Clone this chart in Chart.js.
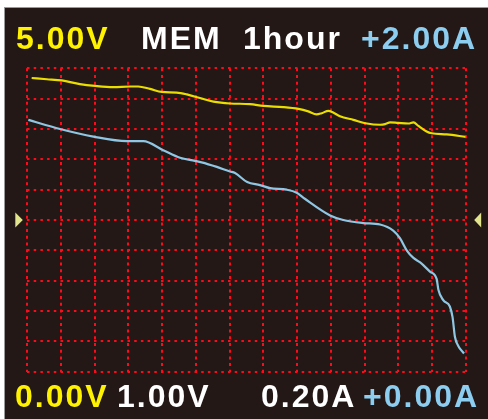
<!DOCTYPE html>
<html>
<head>
<meta charset="utf-8">
<script src="https://cdn.jsdelivr.net/npm/chart.js@4.4.1/dist/chart.umd.min.js"></script>
<style>
  html, body { margin:0; padding:0; background:#fff; }
  #wrap { position:relative; width:488px; height:419px; overflow:hidden; }
  #panel { position:absolute; left:4px; top:7px; width:484px; height:412px; background:#231815;
           border-top:1px solid #9a9a9a; border-left:1px solid #9a9a9a; box-sizing:border-box; }
  canvas { position:absolute; left:0; top:0; }
  .lbl { position:absolute; font-family:"Liberation Sans", Arial, sans-serif; font-weight:bold;
         font-size:32px; line-height:32px; letter-spacing:2px; white-space:nowrap; }
  .yel { color:#fff200; }
  .wht { color:#ffffff; }
  .blu { color:#8ccdf0; }
</style>
</head>
<body>
<div id="wrap">
  <div id="panel"></div>
  <canvas id="scope" width="488" height="419"></canvas>
  <div class="lbl yel" style="left:16px;top:22px">5.00V</div>
  <div class="lbl wht" style="left:141px;top:22px">MEM</div>
  <div class="lbl wht" style="left:243px;top:22px">1hour</div>
  <div class="lbl blu" style="left:361px;top:22px">+2.00A</div>
  <div class="lbl yel" style="left:15px;top:380px">0.00V</div>
  <div class="lbl wht" style="left:117px;top:380px">1.00V</div>
  <div class="lbl wht" style="left:261px;top:380px">0.20A</div>
  <div class="lbl blu" style="left:363px;top:380px">+0.00A</div>
</div>
<script>
// time in hours (1 hour / div), voltage trace
const hoursV = [0.13,0.58,1.02,1.56,2.01,2.55,3.05,3.29,3.64,3.99,4.43,4.73,5.12,5.52,6.01,6.6,7.0,7.59,8.04,8.33,8.58,8.73,8.93,9.07,9.27,9.67,10.07,10.46,10.61,10.76,11.0,11.3,11.45,11.6,11.84,11.99,12.44,13.0];
const volts  = [4.84,4.82,4.80,4.74,4.71,4.69,4.70,4.70,4.66,4.61,4.60,4.57,4.51,4.45,4.42,4.41,4.38,4.36,4.33,4.29,4.24,4.26,4.30,4.27,4.21,4.15,4.09,4.07,4.08,4.11,4.10,4.09,4.11,4.05,3.96,3.93,3.91,3.87];

// current trace
const hoursA = [0.03,0.97,1.96,2.95,3.44,4.03,4.53,4.97,5.17,5.62,6.01,6.16,6.52,6.9,7.2,7.69,7.99,8.23,8.98,9.37,9.96,10.46,10.85,11.05,11.25,11.45,11.65,11.94,12.14,12.19,12.34,12.53,12.61,12.68,12.78,12.95];
const amps   = [1.66,1.60,1.55,1.52,1.52,1.46,1.41,1.39,1.38,1.35,1.32,1.31,1.25,1.23,1.21,1.20,1.18,1.14,1.03,1.00,0.98,0.97,0.93,0.88,0.80,0.75,0.72,0.66,0.61,0.54,0.47,0.43,0.36,0.23,0.17,0.12];

const vMax = 5, aMax = 2, hoursMax = 13;

const gridRed = '#ff0a1a';

// little level markers on both sides of the screen
const markers = {
  id:'markers',
  afterDraw(chart){
    const c = chart.ctx, a = chart.chartArea;
    const mid = (a.top + a.bottom) / 2;
    c.save();
    c.fillStyle = '#e2e48e';
    c.beginPath();
    c.moveTo(a.left - 12, mid - 7.5); c.lineTo(a.left - 12, mid + 7.5); c.lineTo(a.left - 4.5, mid);
    c.closePath(); c.fill();
    c.beginPath();
    c.moveTo(a.right + 15.5, mid - 7.5); c.lineTo(a.right + 15.5, mid + 7.5); c.lineTo(a.right + 8.5, mid);
    c.closePath(); c.fill();
    c.restore();
  }
};

new Chart(document.getElementById('scope'), {
  type:'line',
  data:{
    datasets:[
      { label:'V', data: hoursV.map((h,i)=>({x:h, y:volts[i]})), yAxisID:'y',
        borderColor:'#eadd00', borderWidth:2.2, pointRadius:0, cubicInterpolationMode:'monotone' },
      { label:'A', data: hoursA.map((h,i)=>({x:h, y:amps[i]})), yAxisID:'y1',
        borderColor:'#8ec6e4', borderWidth:2.2, pointRadius:0, cubicInterpolationMode:'monotone' }
    ]
  },
  options:{
    responsive:false,
    animation:false,
    layout:{ autoPadding:false, padding:{ left:27.3, right:22.3, top:68.3, bottom:47.3 } },
    plugins:{ legend:{display:false}, tooltip:{enabled:false} },
    scales:{
      x:{ type:'linear', min:0, max:hoursMax,
          ticks:{ display:false, stepSize:1 },
          grid:{ color:gridRed, lineWidth:2, drawTicks:false },
          border:{ display:false, dash:[3,3.7] } },
      y:{ min:0, max:vMax,
          ticks:{ display:false, stepSize:vMax/10 },
          grid:{ color:gridRed, lineWidth:2, drawTicks:false },
          border:{ display:false, dash:[2.5,4.2] } },
      y1:{ min:0, max:aMax, display:false }
    }
  },
  plugins:[markers]
});
</script>
</body>
</html>
